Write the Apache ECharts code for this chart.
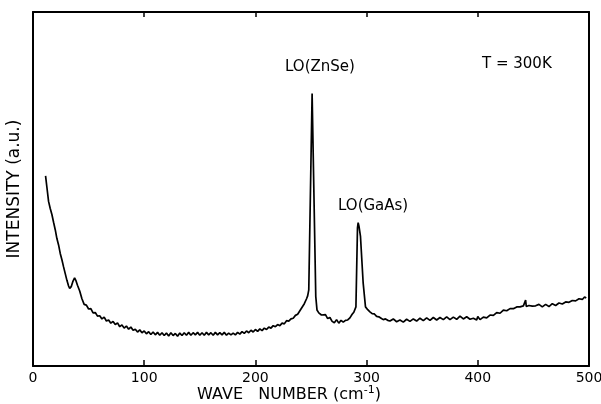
<!DOCTYPE html>
<html>
<head>
<meta charset="utf-8">
<script src="https://cdn.jsdelivr.net/npm/echarts@6/dist/echarts.min.js"></script>
<style>html,body{margin:0;padding:0;background:#fff}#c{width:601px;height:404px}</style>
</head>
<body>
<div id="c"></div>
<script>
// Wave number (cm^-1)
var waveNumber = [
 11.3,12.5,14,15.5,17,18.5,20,21.5,23,24.5,26,27.5,29,30.5,32,33,34.5,36,37.4,38.5,40,42,44,46,48,50,
 52,54,56,58,60,62,64,66,68,70,72,74,76,78,80,82,84,86,88,90,92,94,96,98,100,
 102,104,106,108,110,112,114,116,118,120,122,124,126,128,130,132,134,136,138,140,
 142,144,146,148,150,152,154,156,158,160,162,164,166,168,170,172,174,176,178,180,
 182,184,186,188,190,192,194,196,198,200,202,204,206,208,210,212,214,216,218,220,
 222,224,226,228,230,232,234,236,238,240,242,244,246,247,248,
 251.0,251.6,254.3,255.4,257,259.4,261,263,265,267,269,271,273,275,277,279,281,283,285,287,288.5,290.4,
 291.8,292.4,293.2,294.5,296.9,299,301,303,305,307,309,311,313,315,317,319,
 321,324,327,330,333,336,339,342,345,348,351,354,357,360,363,366,369,372,375,378,381,384,387,390,393,396,399,
 400,402,405,408,411,414,417,420,423,426,429,432,435,438,441,442.4,443,443.6,446,449,452,455,458,461,464,467,
 470,473,476,479,482,485,488,491,494,496,497.5
];
// Intensity (a.u.), 0 = bottom of frame, 100 = top of frame
var intensity = [
 53.7,50.5,46.5,44.5,42.8,40.6,38.5,36.0,34.2,31.8,30.0,28.0,26.1,24.2,22.6,21.9,22.5,24.0,24.9,24.2,22.8,21.2,19.0,17.4,17.2,16.1,
 16.2,15.0,15.1,14.1,14.2,13.3,13.8,12.7,13.0,12.1,12.6,11.7,12.2,11.1,11.6,10.7,11.3,10.4,11.0,10.1,10.4,9.6,10.2,9.4,9.9,
 9.1,9.7,8.9,9.6,8.8,9.5,8.7,9.4,8.6,9.3,8.5,9.4,8.6,9.2,8.4,9.3,8.6,9.4,8.7,9.5,
 8.7,9.4,8.8,9.5,8.7,9.4,8.7,9.5,8.8,9.4,8.7,9.5,8.8,9.4,8.8,9.5,8.7,9.3,8.8,9.3,
 8.8,9.5,9.0,9.7,9.2,9.9,9.4,10.1,9.6,10.3,9.8,10.5,10.0,10.7,10.3,11.0,10.7,11.4,11.1,11.7,
 11.4,12.1,11.9,12.8,12.7,13.3,13.5,14.3,14.6,15.6,16.6,17.6,19.0,19.8,21.5,
 77.0,76.8,19.6,15.8,15.0,14.4,14.1,14.5,13.4,13.7,12.6,12.2,13.1,12.1,12.9,12.4,12.9,13.0,13.6,14.6,15.2,16.7,
 39.0,40.5,39.4,36.6,23.5,16.7,15.9,15.3,14.8,14.7,14.0,13.9,13.5,13.1,13.3,12.9,
 12.7,13.3,12.5,13.0,12.4,13.2,12.6,13.3,12.7,13.5,12.8,13.6,12.9,13.7,13.0,13.7,13.1,13.9,13.1,13.8,13.2,14.1,13.3,13.9,13.2,13.5,13.0,
 14.0,13.1,13.8,13.6,14.4,14.3,15.1,14.9,15.8,15.6,16.2,16.2,16.7,16.7,17.0,16.9,18.6,16.8,17.1,16.9,17.0,17.4,16.7,17.4,16.8,17.6,
 17.1,17.8,17.5,18.1,18.0,18.5,18.4,19.0,18.8,19.5,19.2
];
var xTickLabels = ['0','100','200','300','400','500'];

var points = waveNumber.map(function (x, i) { return [x, intensity[i]]; });

var chart = echarts.init(document.getElementById('c'), null, {renderer: 'canvas'});
var frame = {show: true, onZero: false, lineStyle: {color: '#000', width: 2}};
chart.setOption({
  backgroundColor: '#fff',
  animation: false,
  grid: {left: 33, right: 12, top: 12, bottom: 38, containLabel: false, outerBoundsMode: 'none'},
  xAxis: [{
    type: 'value', min: 0, max: 500, interval: 100, position: 'bottom',
    axisLine: frame,
    axisTick: {show: true, inside: true, length: 6, lineStyle: {color: '#000', width: 1.5}},
    axisLabel: {show: true, color: '#000', fontFamily: 'DejaVu Sans', fontSize: 14, margin: 5,
      formatter: function (v) { return xTickLabels[Math.round(v / 100)]; }},
    splitLine: {show: false},
    name: 'WAVE   NUMBER (cm{sup|-1})', nameLocation: 'middle', nameGap: 19, nameMoveOverlap: false,
    nameTextStyle: {color: '#000', fontFamily: 'DejaVu Sans', fontSize: 16, padding: [0, 44, 0, 0],
      rich: {sup: {fontFamily: 'DejaVu Sans', fontSize: 11, verticalAlign: 'top', padding: [0, 0, 8, 0], color: '#000'}}}
  }, {
    type: 'value', min: 0, max: 500, interval: 100, position: 'top',
    axisLine: frame,
    axisTick: {show: true, inside: true, length: 5, lineStyle: {color: '#000', width: 1.5}},
    axisLabel: {show: false}, splitLine: {show: false}
  }],
  yAxis: [{
    type: 'value', min: 0, max: 100, position: 'left',
    axisLine: frame, axisTick: {show: false}, axisLabel: {show: false}, splitLine: {show: false},
    name: 'INTENSITY (a.u.)', nameLocation: 'middle', nameGap: 10, nameRotate: 90, nameMoveOverlap: false,
    nameTextStyle: {color: '#000', fontFamily: 'DejaVu Sans', fontSize: 17}
  }, {
    type: 'value', min: 0, max: 100, position: 'right',
    axisLine: frame, axisTick: {show: false}, axisLabel: {show: false}, splitLine: {show: false}
  }],
  series: [{
    type: 'line', data: points, xAxisIndex: 0, yAxisIndex: 0,
    showSymbol: false, symbol: 'none',
    lineStyle: {color: '#000', width: 1.7}
  }],
  graphic: [
    {type: 'text', left: 285, top: 60, style: {text: 'LO(ZnSe)', fill: '#000', font: '15px "DejaVu Sans"'}},
    {type: 'text', left: 338, top: 199, style: {text: 'LO(GaAs)', fill: '#000', font: '15px "DejaVu Sans"'}},
    {type: 'text', left: 482, top: 57, style: {text: 'T = 300K', fill: '#000', font: '15px "DejaVu Sans"'}}
  ]
});
</script>
</body>
</html>
